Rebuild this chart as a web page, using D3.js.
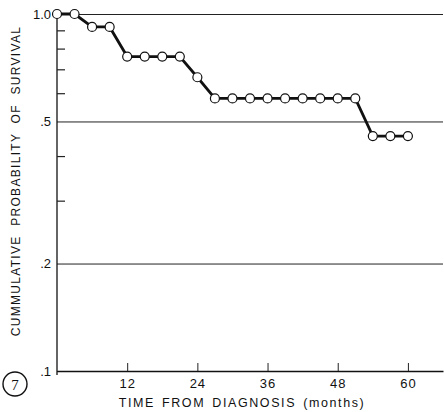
<!DOCTYPE html>
<html>
<head>
<meta charset="utf-8">
<script src="https://cdn.jsdelivr.net/npm/d3@7"></script>
<style>
  body { margin: 0; background: #fff; }
  svg { display: block; font-family: "Liberation Sans", Arial, sans-serif; }
  .domain { stroke: #111; stroke-width: 1.3; }
</style>
</head>
<body>
<div class="chart"></div>
<script>
// data
var months = [0, 3, 6, 9, 12, 15, 18, 21, 24, 27, 30, 33, 36, 39, 42, 45, 48, 51, 54, 57, 60];
var survival = [1.0, 1.0, 0.92, 0.92, 0.76, 0.76, 0.76, 0.76, 0.665, 0.58, 0.58, 0.58, 0.58, 0.58, 0.58, 0.58, 0.58, 0.58, 0.455, 0.455, 0.455];
var xTicks = [12, 24, 36, 48, 60];
var yMajor = [1.0, 0.5, 0.2, 0.1];
var yMajorLabels = ["1.0", ".5", ".2", ".1"];
var yMinor = [0.9, 0.8, 0.7, 0.6, 0.4, 0.3];

// dimensions
var W = 444, H = 412;
var margin = {top: 14, right: 1, bottom: 41, left: 57};
var width = W - margin.left - margin.right;
var height = H - margin.top - margin.bottom;

var x = d3.scaleLinear().domain([0, 66]).range([0, width]);
var y = d3.scaleLog().domain([0.1, 1]).range([height, 0]);

var svg = d3.select(".chart").append("svg")
  .attr("width", W)
  .attr("height", H);

var chart = svg.append("g")
  .attr("transform", "translate(" + margin.left + "," + margin.top + ")");

// grid lines + major labels
var yAxis = chart.append("g")
  .call(d3.axisLeft(y)
    .tickValues(yMajor)
    .tickSizeInner(-width)
    .tickSizeOuter(0)
    .tickPadding(6)
    .tickFormat(function(d, i) { return yMajorLabels[i]; }));
yAxis.select(".domain").remove();
yAxis.selectAll(".tick line").attr("stroke", "#222").attr("stroke-width", 1);
yAxis.selectAll(".tick text")
  .attr("font-size", 13)
  .attr("fill", "#111");

// minor ticks
var yMinorAxis = chart.append("g")
  .call(d3.axisLeft(y)
    .tickValues(yMinor)
    .tickSizeInner(-8)
    .tickSizeOuter(0)
    .tickFormat(""));
yMinorAxis.selectAll(".tick line").attr("stroke", "#222").attr("stroke-width", 1.2);
yMinorAxis.select(".domain")
  .attr("d", "M0," + (y(1) - 4) + "V" + (height + 4));

// x axis
var xAxis = chart.append("g")
  .attr("transform", "translate(0," + height + ")")
  .call(d3.axisBottom(x)
    .tickValues(xTicks)
    .tickSizeInner(-8)
    .tickSizeOuter(0)
    .tickPadding(8));
xAxis.selectAll(".tick line").attr("stroke", "#222");
xAxis.selectAll(".tick text")
  .attr("font-size", 13)
  .attr("fill", "#111")
  .style("letter-spacing", "1px");

// survival curve
var line = d3.line()
  .x(function(d, i) { return x(months[i]); })
  .y(function(d) { return y(d); });

chart.append("path")
  .datum(survival)
  .attr("fill", "none")
  .attr("stroke", "#111")
  .attr("stroke-width", 2.8)
  .attr("d", line);

chart.selectAll(".pt")
  .data(survival)
  .enter()
  .append("circle")
  .attr("class", "pt")
  .attr("cx", function(d, i) { return x(months[i]); })
  .attr("cy", function(d) { return y(d); })
  .attr("r", 4.5)
  .attr("fill", "#fff")
  .attr("stroke", "#111")
  .attr("stroke-width", 1.2);

// x label
svg.append("text")
  .attr("x", 242)
  .attr("y", 407)
  .attr("text-anchor", "middle")
  .attr("font-size", 12.5)
  .attr("fill", "#111")
  .style("letter-spacing", "1.6px")
  .style("word-spacing", "2px")
  .text("TIME FROM DIAGNOSIS (months)");

// y label
svg.append("text")
  .attr("transform", "translate(20," + 181 + ") rotate(-90)")
  .attr("text-anchor", "middle")
  .attr("font-size", 12)
  .attr("fill", "#111")
  .style("letter-spacing", "1.3px")
  .style("word-spacing", "5px")
  .text("CUMMULATIVE PROBABILITY OF SURVIVAL");

// figure number
svg.append("circle")
  .attr("cx", 15)
  .attr("cy", 384)
  .attr("r", 12)
  .attr("fill", "none")
  .attr("stroke", "#111")
  .attr("stroke-width", 1.4);
svg.append("text")
  .attr("x", 15)
  .attr("y", 389.5)
  .attr("text-anchor", "middle")
  .attr("font-size", 15)
  .attr("font-family", "Liberation Serif, serif")
  .attr("fill", "#111")
  .text("7");
</script>
</body>
</html>
